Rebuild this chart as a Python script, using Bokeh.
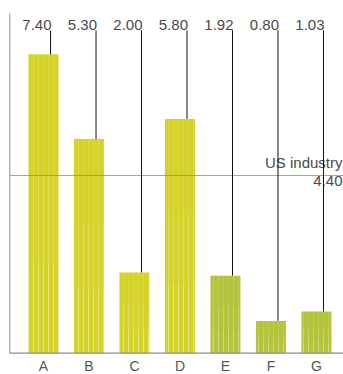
from bokeh.plotting import figure
from bokeh.models import Range1d, ColumnDataSource
from bokeh.core.properties import value
from bokeh.embed import file_html
from bokeh.resources import INLINE

# Data
categories = ["A", "B", "C", "D", "E", "F", "G"]
values = [7.40, 5.30, 2.00, 5.80, 1.92, 0.80, 1.03]
value_labels = ["7.40", "5.30", "2.00", "5.80", "1.92", "0.80", "1.03"]
benchmark_name = "US industry"
benchmark_value = 4.40
benchmark_label = "4.40"

# Styling
yellow = "#d5d329"
green = "#b3c43b"
bar_colors = [yellow] * 4 + [green] * 3
FONT = value("Liberation Sans")
TEXT_COLOR = "#4a4a4a"
AXIS_COLOR = "#8c8c8c"

# Layout (data units); the frame fills the whole canvas and the
# category names sit below zero
X_START, X_END = -0.945, 6.595
Y_START, Y_END = -0.527, 8.73
AXIS_X = -0.74          # left rule
AXIS_TOP = 8.41
LEADER_TOP = 7.99       # where the value leaders end
LEADER_SHIFT = 0.155    # leaders sit right of the bar centre
BAR_W = 0.66

xs = list(range(len(categories)))
leader_x = [x + LEADER_SHIFT for x in xs]

src = ColumnDataSource(dict(
    x=xs, top=values, color=bar_colors, lx=leader_x,
    ly=[LEADER_TOP] * len(xs), label=value_labels, cat=categories,
    base=[0] * len(xs),
    top60=[v * 0.6 for v in values], top30=[v * 0.3 for v in values],
))

p = figure(width=343, height=374, output_backend="svg", toolbar_location=None,
           x_range=Range1d(X_START, X_END), y_range=Range1d(Y_START, Y_END),
           min_border=0)
p.outline_line_color = None
p.grid.visible = False
p.axis.visible = False
p.background_fill_color = "white"
p.border_fill_color = "white"

# axes rules
p.segment(x0=[AXIS_X], y0=[0], x1=[AXIS_X], y1=[AXIS_TOP], line_color=AXIS_COLOR, line_width=1)

# category names
p.text(x="x", y="base", text="cat", source=src, y_offset=5,
       text_align="center", text_baseline="top",
       text_font=FONT, text_font_size="14px", text_color="#555555")

# bars with faint vertical streaks that strengthen toward the base
p.vbar(x="x", top="top", width=BAR_W, bottom=0, source=src,
       fill_color="color", line_color=None,
       hatch_pattern="vertical_line", hatch_color="white", hatch_alpha=0.12,
       hatch_scale=5, hatch_weight=1)
p.vbar(x="x", top="top60", width=BAR_W, bottom=0, source=src,
       fill_alpha=0, line_color=None,
       hatch_pattern="vertical_line", hatch_color="white", hatch_alpha=0.15,
       hatch_scale=5, hatch_weight=1)
p.vbar(x="x", top="top30", width=BAR_W, bottom=0, source=src,
       fill_alpha=0, line_color=None,
       hatch_pattern="vertical_line", hatch_color="white", hatch_alpha=0.2,
       hatch_scale=5, hatch_weight=1)

# baseline
p.segment(x0=[AXIS_X], y0=[0], x1=[X_END], y1=[0], line_color=AXIS_COLOR, line_width=1.3)

# benchmark line and label
p.segment(x0=[AXIS_X], y0=[benchmark_value], x1=[X_END], y1=[benchmark_value],
          line_color="#8a8a8a", line_alpha=0.8, line_width=1)
p.text(x=[X_END], y=[benchmark_value], text=[benchmark_name], text_align="right",
       text_baseline="bottom", y_offset=-4, x_offset=-1, text_font=FONT,
       text_font_size="15px", text_color=TEXT_COLOR)
p.text(x=[X_END], y=[benchmark_value], text=[benchmark_label], text_align="right",
       text_baseline="top", y_offset=1, x_offset=-1, text_font=FONT,
       text_font_size="15px", text_color=TEXT_COLOR)

# value labels and their leaders
p.text(x="lx", y="ly", text="label", source=src, text_align="right",
       text_baseline="bottom", x_offset=1, text_font=FONT,
       text_font_size="15px", text_color=TEXT_COLOR)
p.segment(x0="lx", y0="top", x1="lx", y1="ly", source=src,
          line_color="#111111", line_width=1)

open("out.html", "w").write(file_html(p, INLINE))
